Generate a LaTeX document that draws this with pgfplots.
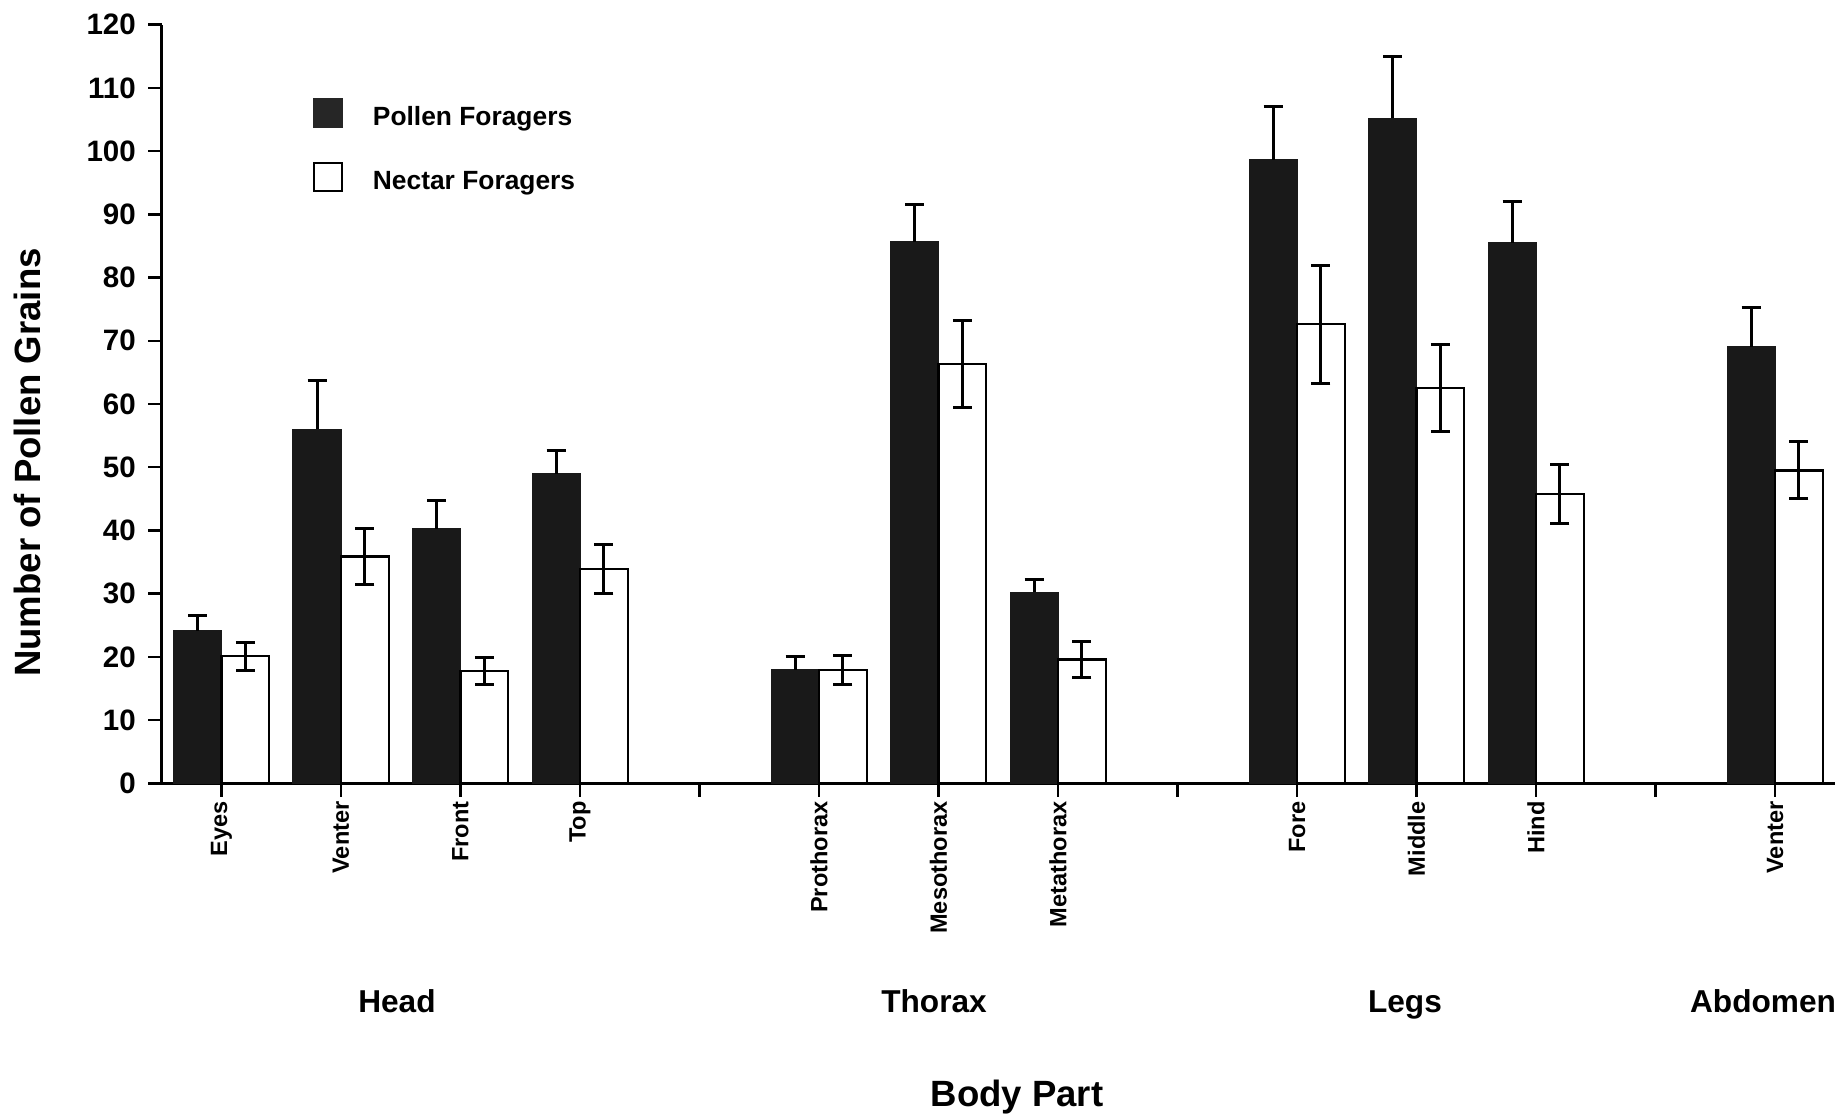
\documentclass[border=0pt]{standalone}
\usepackage{pgfplots}
\pgfplotsset{compat=1.18}
\usepackage{pgfplotstable}
\usepackage{fontspec}
\setmainfont{Liberation Sans}

\pgfplotstableread{
x y e
0 24.1 2.4
1 56.0 7.7
2 40.3 4.5
3 48.9 3.8
5 18.0 2.1
6 85.6 5.9
7 30.2 2.1
9 98.6 8.4
10 105.2 9.7
11 85.5 6.5
13 69.0 6.2
}\pollen

\pgfplotstableread{
x y e
0 20.1 2.2
1 35.9 4.4
2 17.8 2.1
3 33.9 3.8
5 17.9 2.3
6 66.3 6.9
7 19.6 2.8
9 72.6 9.3
10 62.5 6.9
11 45.8 4.7
13 49.5 4.5
}\nectar

\begin{document}
\begin{tikzpicture}
\begin{axis}[
  width=16.73cm, height=7.586cm, scale only axis,
  xmin=-0.5, xmax=13.5, ymin=0, ymax=120,
  axis x line=bottom, axis y line=left,
  axis line style={-, line width=0.75pt, black},
  ytick={0,10,...,120},
  xtick={0,...,13},
  xticklabels={Eyes,Venter,Front,Top,,Prothorax,Mesothorax,Metathorax,,Fore,Middle,Hind,,Venter},
  tick align=outside,
  major tick length=0.135cm,
  tick style={line width=0.7pt, black},
  x tick label style={rotate=90, anchor=east, font=\bfseries\fontsize{6.7}{8}\selectfont, inner ysep=0pt, inner xsep=0.04cm},
  y tick label style={font=\bfseries\fontsize{8.4}{10}\selectfont},
  /pgf/number format/assume math mode=true,
  legend style={at={(axis cs:0.763,108.35)}, anchor=north west, draw=none, fill=none,
    inner sep=0pt, outer sep=0pt, row sep=0.31cm, column sep=0.3cm,
    font=\bfseries\fontsize{7.5}{9}\selectfont, cells={anchor=base west}, nodes={inner sep=0pt}},
  clip=false,
]
\addplot[ybar, bar width=0.4, bar shift=-0.2, fill=black!90, draw=black!90,
  legend image code/.code={\draw[fill=black!85, draw=black!85] (0cm,-0.015cm) rectangle (0.28cm,0.265cm);}]
  table[x=x, y=y] {\pollen};
\addlegendentry{Pollen Foragers}
\addplot[ybar, bar width=0.4, bar shift=0.2, fill=white, draw=black, line width=0.65pt,
  legend image code/.code={\draw[fill=white, draw=black, line width=0.65pt] (0cm,-0.015cm) rectangle (0.28cm,0.265cm);}]
  table[x=x, y=y] {\nectar};
\addlegendentry{Nectar Foragers}

\addplot[draw=none, mark=none, forget plot,
  error bars/.cd, y dir=plus, y explicit,
  error bar style={draw=black, line width=0.85pt},
  error mark options={rotate=90, draw=black, line width=0.85pt, mark size=0.095cm}]
  table[x expr=\thisrow{x}-0.2, y=y, y error=e] {\pollen};
\addplot[draw=none, mark=none, forget plot,
  error bars/.cd, y dir=both, y explicit,
  error bar style={draw=black, line width=0.85pt},
  error mark options={rotate=90, draw=black, line width=0.85pt, mark size=0.095cm}]
  table[x expr=\thisrow{x}+0.2, y=y, y error=e] {\nectar};

\coordinate (O) at (axis cs:-0.5,0);
\begin{scope}[font=\bfseries\fontsize{9}{11}\selectfont]
\node[anchor=base] at (axis description cs:0.1406,-0.3019) {Head};
\node[anchor=base] at (axis description cs:0.4616,-0.3019) {Thorax};
\node[anchor=base] at (axis description cs:0.7431,-0.3019) {Legs};
\node[anchor=base] at (axis description cs:0.9571,-0.3019) {Abdomen};
\end{scope}
\node[anchor=base, font=\bfseries\fontsize{10.4}{12}\selectfont] at (axis description cs:0.5112,-0.4263) {Body Part};
\node[rotate=90, anchor=center, font=\bfseries\fontsize{10.4}{12}\selectfont] at (axis description cs:-0.0800,0.4229) {Number of Pollen Grains};
\end{axis}
\pgfresetboundingbox
\path[use as bounding box] ([shift={(-1.6175cm,-3.307cm)}]O) rectangle ([shift={(16.8025cm,7.833cm)}]O);
\end{tikzpicture}
\end{document}
